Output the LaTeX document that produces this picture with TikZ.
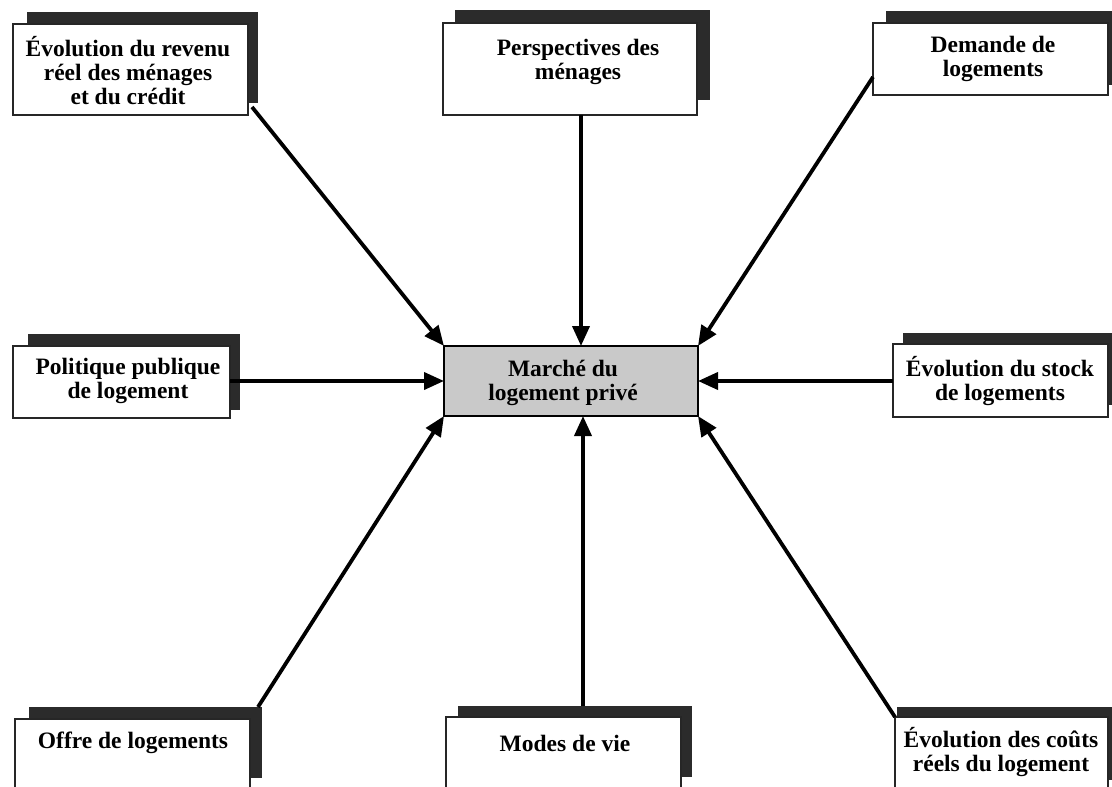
\documentclass[tikz,border=0pt]{standalone}
\usepackage{fontspec}
\setmainfont{Liberation Serif}
\usetikzlibrary{arrows.meta,calc}
\definecolor{shadowgray}{HTML}{2B2B2B}
\definecolor{centergray}{HTML}{C9C9C9}
\tikzset{
  shbox/.style={fill=shadowgray, draw=none, inner sep=0, outer sep=0},
  wbox/.style={fill=white, draw=black!85, line width=1.2pt, inner sep=0, outer sep=0},
  cbox/.style={fill=centergray, draw=black, line width=2.8pt, inner sep=0, outer sep=0},
  lbl/.style={font=\fontsize{23.5}{24}\selectfont\bfseries, align=center, inner sep=0},
  arr/.style={line width=3.8pt, -{Triangle[length=20pt,width=17pt]}}
}
\begin{document}
\begin{tikzpicture}[x=1pt,y=-1pt]
\useasboundingbox (0,0) rectangle (1112,787);
\clip (0,0) rectangle (1112,787);
\fill[white] (0,0) rectangle (1112,787);
% shadows
\node[shbox, minimum width=231, minimum height=91] (sh1) at (142.5,57.5) {};
\node[shbox, minimum width=255, minimum height=90] (sh2) at (582.5,55) {};
\node[shbox, minimum width=239, minimum height=74] (sh3) at (1005.5,48) {};
\node[shbox, minimum width=212, minimum height=76] (sh4) at (134,372) {};
\node[shbox, minimum width=222, minimum height=72] (sh5) at (1014,369) {};
\node[shbox, minimum width=233, minimum height=71] (sh6) at (145.5,742.5) {};
\node[shbox, minimum width=234, minimum height=71] (sh7) at (575,741.5) {};
\node[shbox, minimum width=228, minimum height=73] (sh8) at (1011,743.5) {};
% white boxes
\node[wbox, minimum width=235, minimum height=91] (b1) at (130.5,69.5) {};
\node[wbox, minimum width=254, minimum height=92] (b2) at (570,69) {};
\node[wbox, minimum width=235, minimum height=72] (b3) at (990.5,59) {};
\node[wbox, minimum width=217, minimum height=72] (b4) at (121.5,382) {};
\node[wbox, minimum width=215, minimum height=73] (b5) at (1000.5,380.5) {};
\node[wbox, minimum width=235, minimum height=86] (b6) at (132.5,762) {};
\node[wbox, minimum width=235, minimum height=88] (b7) at (563.5,761) {};
\node[wbox, minimum width=213, minimum height=88] (b8) at (1001.5,761) {};
% central box
\node[cbox, minimum width=254, minimum height=70] (c) at (571,381) {};
% labels
\node[lbl] (t1) at (128,71) {Évolution du revenu\\réel des ménages\\et du crédit};
\node[lbl] (t2) at (578,62) {Perspectives des\\ménages};
\node[lbl] (t3) at (993,59) {Demande de\\logements};
\node[lbl] (t4) at (128,381) {Politique publique\\de logement};
\node[lbl] (t5) at (1000,381) {Évolution du stock\\de logements};
\node[lbl] (t6) at (133,743) {Offre de logements};
\node[lbl] (t7) at (565,743) {Modes de vie};
\node[lbl] (t8) at (1001,752) {Évolution des coûts\\réels du logement};
\node[lbl] (tc) at (563,383) {Marché du\\logement privé};
% arrows
\draw[arr] ($(b1.south east)+(4,-8)$) -- (c.north west);
\draw[arr] ($(b2.south)+(11,0)$) -- ($(c.north)+(10,0)$);
\draw[arr] ($(b3.south west)+(0,-18)$) -- (c.north east);
\draw[arr] (b4.east |- c.west) -- (c.west);
\draw[arr] (b5.west |- c.east) -- (c.east);
\draw[arr] ($(sh6.north east)+(-4,0)$) -- (c.south west);
\draw[arr] ($(sh7.north)+(8,0)$) -- ($(c.south)+(12,0)$);
\draw[arr] (b8.north west) -- (c.south east);
\end{tikzpicture}
\end{document}
